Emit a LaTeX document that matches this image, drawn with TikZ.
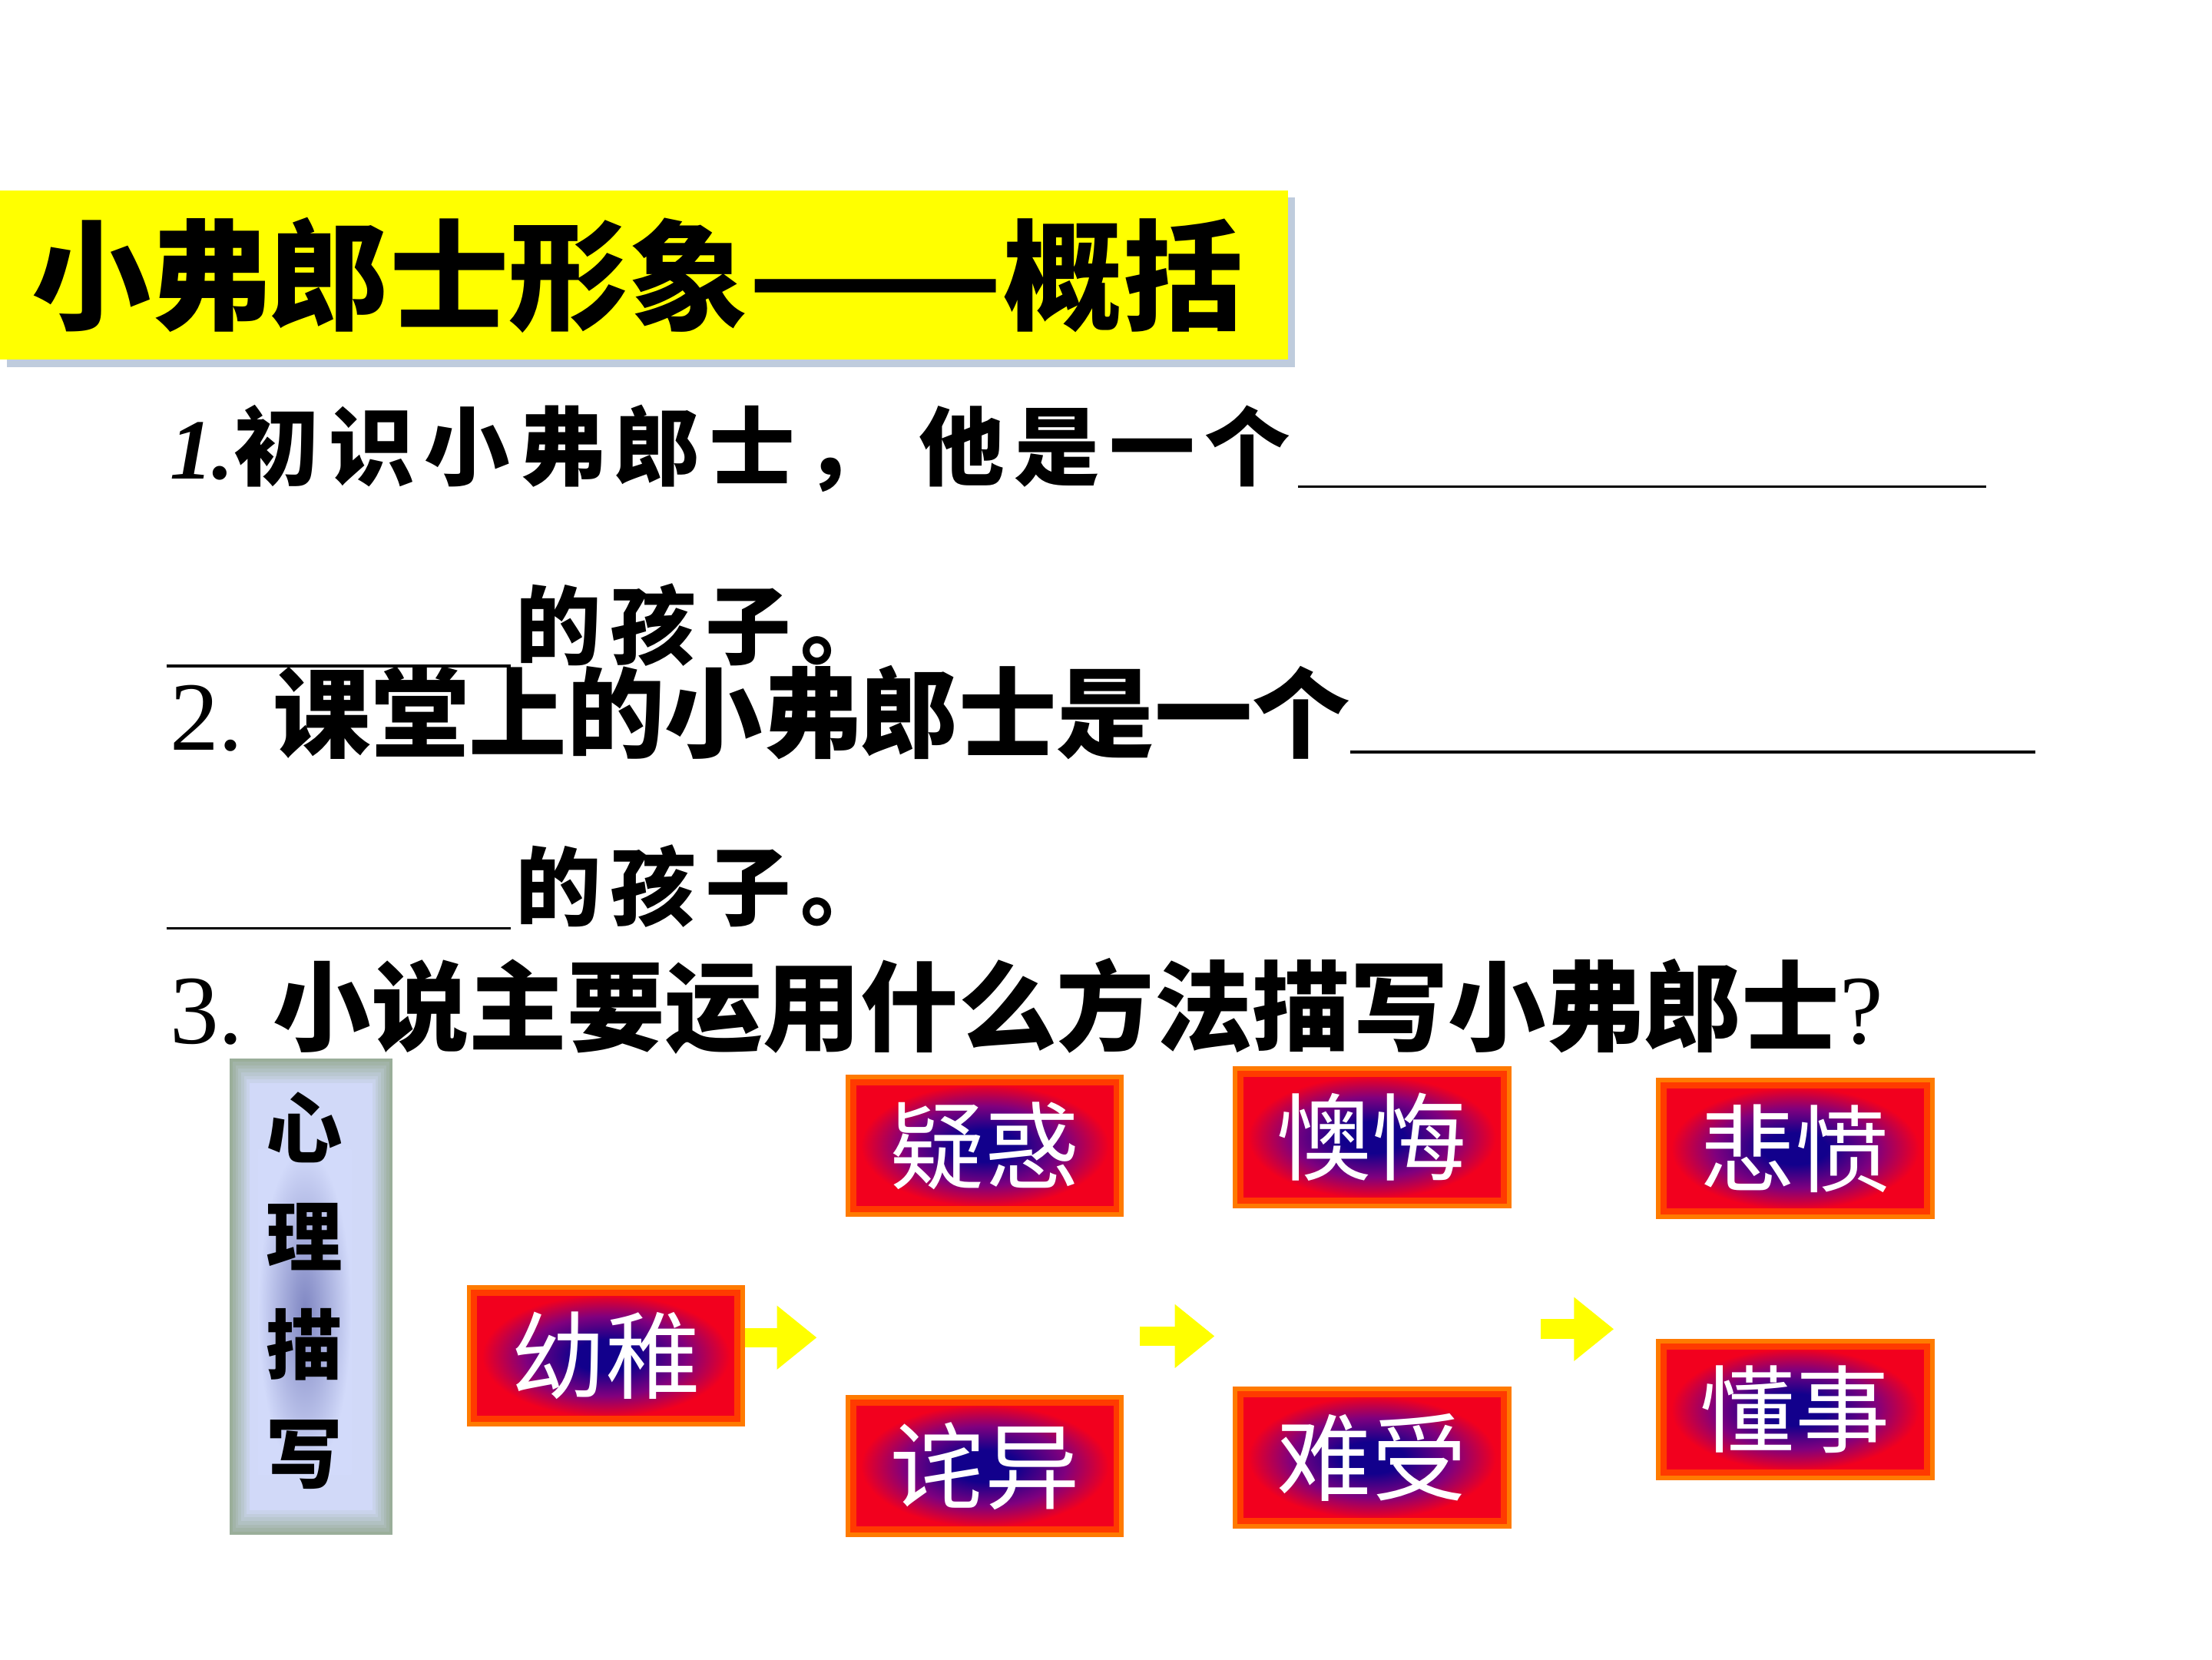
\documentclass[tikz,border=0pt]{standalone}
\usepackage{fontspec}
\setmainfont{Liberation Serif}
\newfontfamily\cjk{Noto Sans CJK SC}
\usetikzlibrary{arrows.meta, calc}
\definecolor{bannerYellow}{HTML}{FFFF00}
\definecolor{bannerShadow}{HTML}{BFCCDD}
\definecolor{sidebarSage}{HTML}{9AAE9A}
\definecolor{sidebarLilac}{HTML}{D2DAFA}
\definecolor{sidebarSmudge}{HTML}{7F86C2}
\definecolor{moodNavy}{HTML}{12008C}
\definecolor{moodPurple}{HTML}{80007E}
\definecolor{moodRed}{HTML}{F2001E}
\definecolor{moodOrange}{HTML}{FF7A00}
\definecolor{moodFlame}{HTML}{FF3A00}
\definecolor{arrowYellow}{HTML}{FFFF00}
\pgfdeclareradialshading{moodglow}{\pgfpoint{0bp}{0bp}}{color(0bp)=(moodNavy); color(6bp)=(moodNavy); color(15bp)=(moodPurple); color(23bp)=(moodRed); color(25bp)=(moodRed); color(50bp)=(moodRed)}
\newcommand{\px}{0.016199cm}

\begin{document}
\begin{tikzpicture}[x=0.016199cm, y=-0.016199cm,
  qtext/.style={anchor=west, inner sep=0pt, font=\cjk\bfseries\fontsize{32}{32}\selectfont},
  qsmall/.style={anchor=west, inner sep=0pt, font=\cjk\bfseries\fontsize{28}{28}\selectfont\addfontfeatures{LetterSpace=11}},
  blankline/.style={black, line width=0.8pt},
  moodbox/.style={rectangle, minimum width=191*\px, minimum height=94*\px, inner sep=0pt,
    shading=moodglow, draw=moodOrange, line width=3pt, text=white, font=\cjk\fontsize{31}{31}\selectfont},
  moodarrow/.style={arrowYellow, line width=6.4pt, -{Triangle[width=20pt, length=13pt]}}]
  \useasboundingbox (0,0) rectangle (1568,1176);

  % Banner
  \fill[bannerShadow] (5,140) rectangle (918,260);
  \fill[bannerYellow] (0,135) rectangle (913,255);
  \node[anchor=west, inner sep=0pt, font=\cjk\bfseries\fontsize{39}{39}\selectfont] (title) at (22,195) {小弗郎士形象\scalebox{1.25}[1]{——}概括};

  % Questions
  \node[qsmall] (q1) at (120,318) {{\rmfamily\itshape 1.}初识小弗郎士，\ 他是一个};
  \draw[blankline] (920,345) -- (1408,345);
  \draw[blankline] (118,472) -- (362,472);
  \node[qsmall] (q1end) at (365,443) {的孩子。};
  \node[qtext] (q2) at (120,505) {{\rmfamily\mdseries 2.} 课堂上的小弗郎士是一个};
  \draw[blankline] (957,533) -- (1443,533);
  \draw[blankline] (118,658) -- (362,658);
  \node[qsmall] (q2end) at (365,628) {的孩子。};
  \node[qtext] (q3) at (120,713) {{\rmfamily\mdseries 3.} 小说主要运用什么方法描写小弗郎士{\rmfamily\mdseries ?}};

  % Sidebar
  \foreach \i [evaluate=\i as \mix using int(100-14*\i)] in {0,...,7}
    \fill[sidebarSage!\mix!sidebarLilac] (163+2*\i,750+2.5*\i) rectangle (278-2*\i,1088-2.5*\i);
  \shade[inner color=sidebarSmudge, outer color=sidebarLilac] (183,815) rectangle (249,1045);
  \node[align=center, inner sep=0pt, font=\cjk\bfseries\fontsize{25}{35.4}\selectfont] (method) at (216,915) {心\\理\\描\\写};

  % Mood boxes
  \node[moodbox] (youzhi) at (429.5,961) {幼稚};
  \node[moodbox] (yihuo) at (698,812) {疑惑};
  \node[moodbox] (chayi) at (698,1039) {诧异};
  \node[moodbox] (aohui) at (972.5,806) {懊悔};
  \node[moodbox] (nanshou) at (972.5,1033) {难受};
  \node[moodbox] (beifen) at (1272.5,814) {悲愤};
  \node[moodbox] (dongshi) at (1272.5,999) {懂事};
  \foreach \b in {youzhi, yihuo, chayi, aohui, nanshou, beifen, dongshi}
    \draw[moodFlame, line width=2pt] ([shift={(2.5pt,2.5pt)}]\b.south west) rectangle ([shift={(-2.5pt,-2.5pt)}]\b.north east);

  % Arrows
  \coordinate (a1head) at (579,948);
  \coordinate (a2tail) at (808,947);
  \coordinate (a2head) at (861,947);
  \coordinate (a3tail) at (1092,942);
  \coordinate (a3head) at (1144,942);
  \draw[moodarrow] (youzhi.east |- a1head) -- (a1head);
  \draw[moodarrow] (a2tail) -- (a2head);
  \draw[moodarrow] (a3tail) -- (a3head);
\end{tikzpicture}
\end{document}
